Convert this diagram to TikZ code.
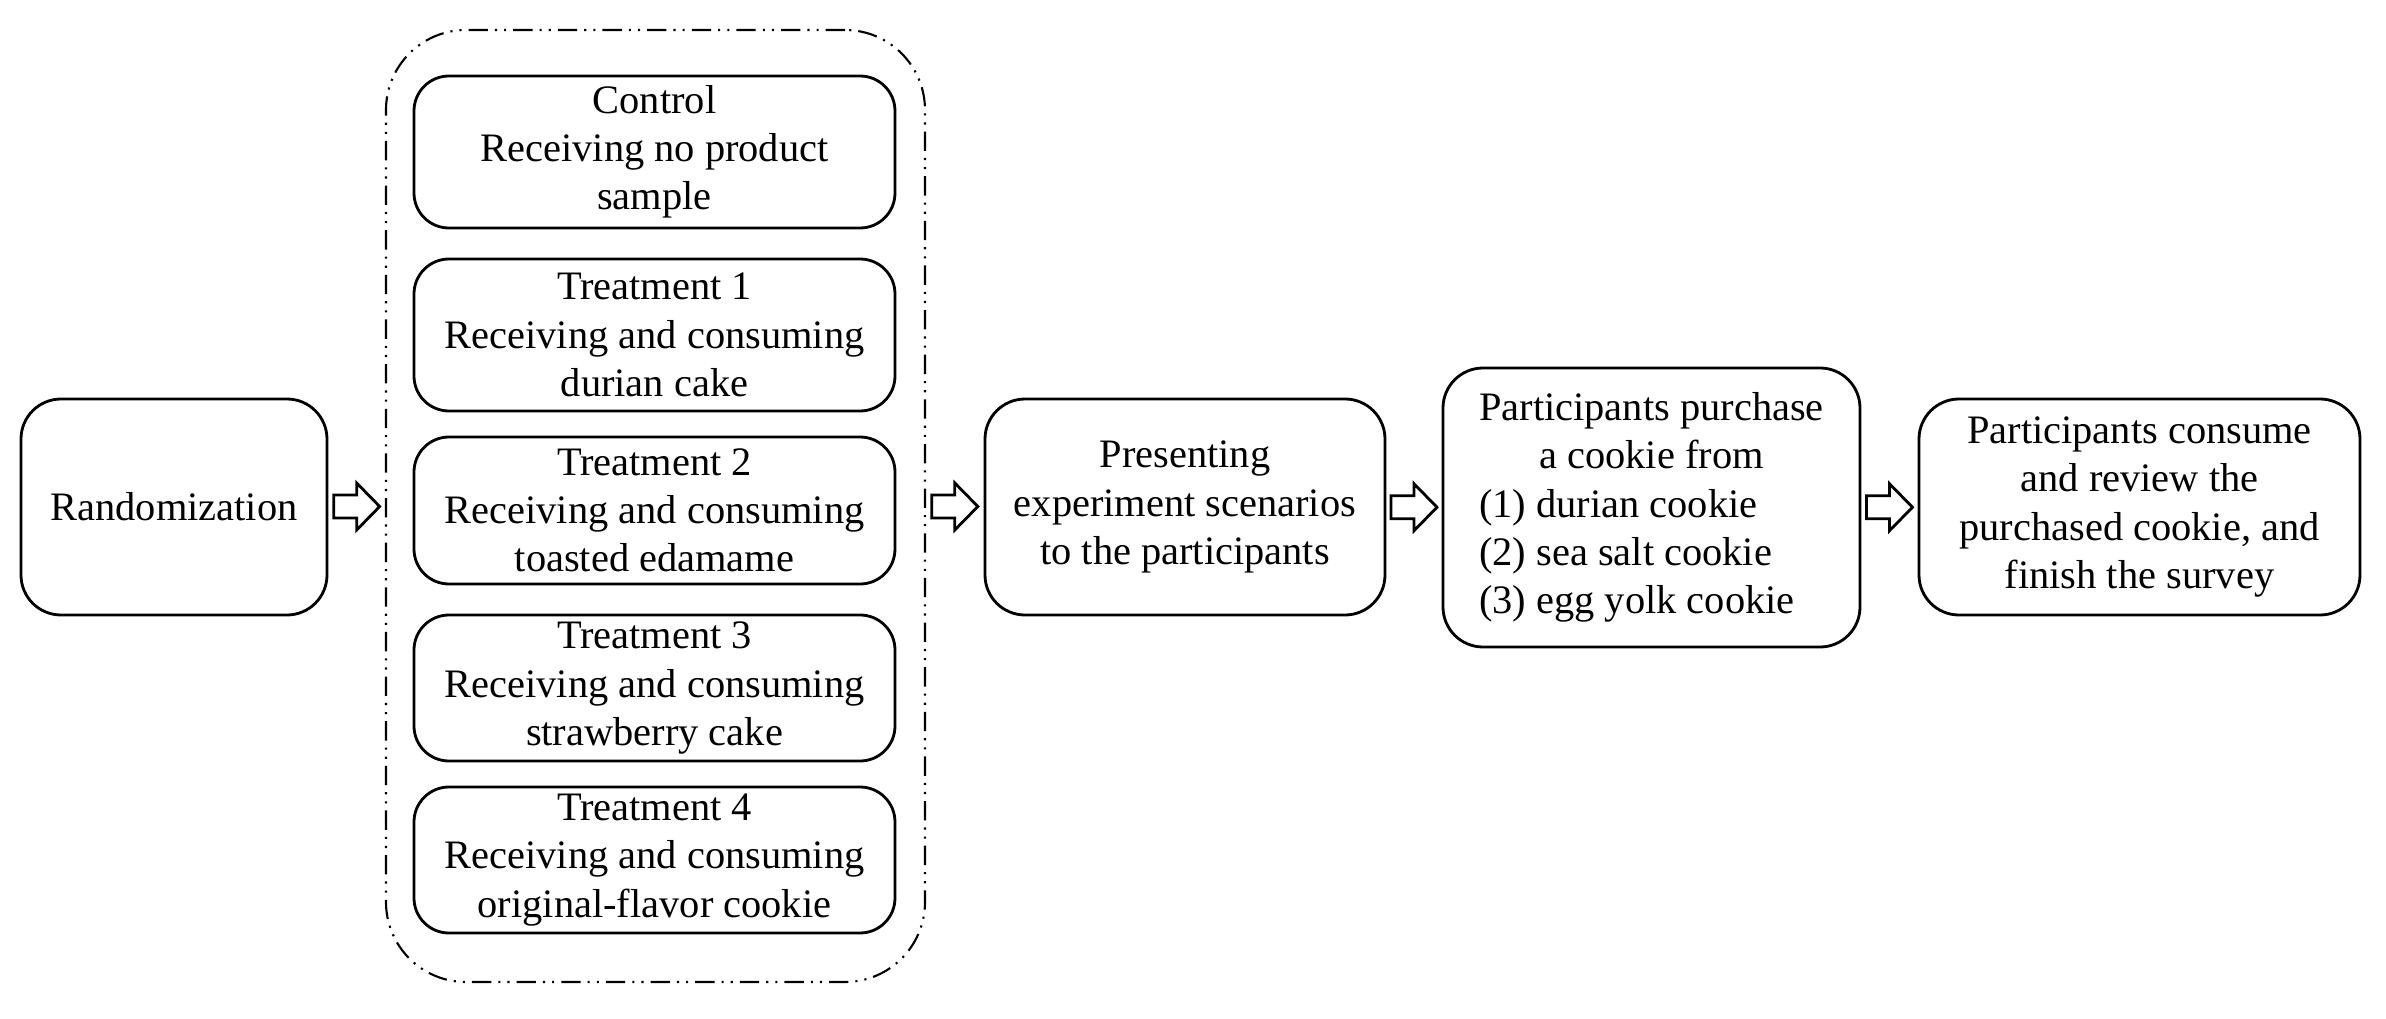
\documentclass[tikz,border=0pt]{standalone}
\usepackage{fontspec}
\setmainfont{Liberation Serif}
\usetikzlibrary{calc}
\tikzset{
  box/.style={draw, line width=0.8pt, rounded corners=0.4cm, align=center,
    font=\fontsize{11.5}{13.7}\selectfont, inner sep=0pt},
  inbox/.style={box, rounded corners=0.35cm, minimum width=4.81cm},
  groupbox/.style={draw, line width=0.6pt, rounded corners=0.8cm,
    dash pattern=on 5.5pt off 2pt on 0.6pt off 2pt on 0.6pt off 2pt},
  barrow/.pic={\draw[line width=0.8pt, line join=miter]
    (-0.23,0.115) -- (0,0.115) -- (0,0.235) -- (0.23,0) -- (0,-0.235)
    -- (0,-0.115) -- (-0.23,-0.115) -- cycle;}
}
\begin{document}
\begin{tikzpicture}
\useasboundingbox (0,0) rectangle (23.86,10.18);
\node[groupbox, minimum width=5.39cm, minimum height=9.52cm] (cont) at (6.555,5.12) {};
\node[box, minimum width=3.06cm, minimum height=2.16cm] (rand) at (1.74,5.11) {Randomization};
\node[inbox, minimum height=1.52cm] (ctrl) at (6.545,8.66) {Control\\Receiving no product\\sample};
\node[inbox, minimum height=1.52cm] (t1) at (6.545,6.83) {Treatment 1\\Receiving and consuming\\durian cake};
\node[inbox, minimum height=1.47cm] (t2) at (6.545,5.075) {Treatment 2\\Receiving and consuming\\toasted edamame};
\node[inbox, minimum height=1.46cm] (t3) at (6.545,3.30) {Treatment 3\\Receiving and consuming\\strawberry cake};
\node[inbox, minimum height=1.46cm] (t4) at (6.545,1.58) {Treatment 4\\Receiving and consuming\\original-flavor cookie};
\node[box, minimum width=4.00cm, minimum height=2.16cm] (pres) at (11.85,5.11) {Presenting\\experiment scenarios\\to the participants};
\node[box, minimum width=4.17cm, minimum height=2.79cm] (purch) at (16.515,5.105)
  {\begin{tabular}{@{}l@{}}\multicolumn{1}{@{}c@{}}{Participants purchase}\\
   \multicolumn{1}{@{}c@{}}{a cookie from}\\ (1) durian cookie\\ (2) sea salt cookie\\ (3) egg yolk cookie\end{tabular}};
\node[box, minimum width=4.41cm, minimum height=2.16cm] (fin) at (21.395,5.11) {Participants consume\\and review the\\purchased cookie, and\\finish the survey};
\pic at ($(rand.east)!0.5!(cont.west)$) {barrow};
\pic at ($(cont.east)!0.5!(pres.west)$) {barrow};
\pic at ($(pres.east)!0.5!(purch.west)$) {barrow};
\pic at ($(purch.east)!0.5!(fin.west)$) {barrow};
\end{tikzpicture}
\end{document}
